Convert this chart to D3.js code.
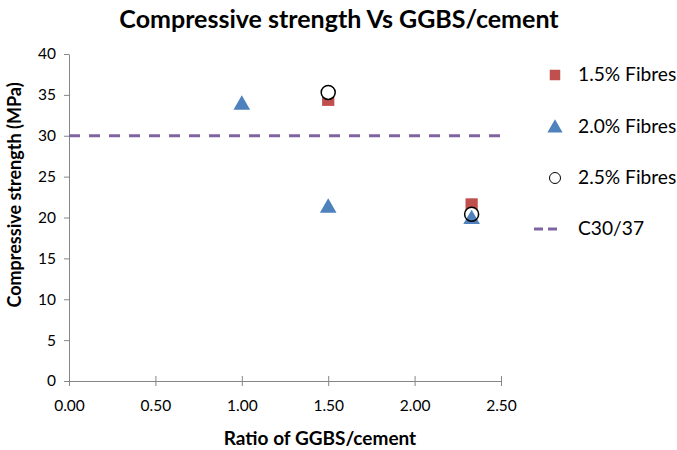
<!DOCTYPE html>
<html><head><meta charset="utf-8">
<script src="https://cdn.jsdelivr.net/npm/d3@7"></script>
<style>body{margin:0;background:#fff;} svg{display:block;font-family:Lato,"Open Sans",sans-serif;}</style>
</head><body><svg id="c" width="677" height="450"></svg>
<script>
const title = "Compressive strength Vs GGBS/cement";
const xTitle = "Ratio of GGBS/cement";
const yTitle = "Compressive strength (MPa)";
const xTicks = [0, 0.5, 1.0, 1.5, 2.0, 2.5];
const yTicks = [0, 5, 10, 15, 20, 25, 30, 35, 40];
const seriesNames = ["1.5% Fibres", "2.0% Fibres", "2.5% Fibres", "C30/37"];
const fib15 = [[1.5, 34.4], [2.33, 21.6]];
const fib20 = [[1.0, 33.9], [1.5, 21.3], [2.33, 19.9]];
const fib25 = [[1.5, 35.3], [2.33, 20.4]];
const c3037 = [[0, 30], [2.5, 30]];

const svg = d3.select("#c");
const x = d3.scaleLinear().domain([0, 2.5]).range([69, 501]);
const y = d3.scaleLinear().domain([0, 40]).range([381, 54]);
const axisCol = "#868686";

svg.append("text").attr("x", 339).attr("y", 28).attr("text-anchor", "middle")
  .attr("font-size", 25).attr("font-weight", "bold").attr("fill", "#000").text(title);

const gx = svg.append("g").attr("transform", "translate(0,381)")
  .call(d3.axisBottom(x).tickValues(xTicks).tickFormat(d3.format(".2f")).tickSizeInner(5).tickSizeOuter(0).tickPadding(14));
gx.selectAll(".tick line").attr("y1", -5);
const gy = svg.append("g").attr("transform", "translate(69,0)")
  .call(d3.axisLeft(y).tickValues(yTicks).tickSizeInner(5).tickSizeOuter(0).tickPadding(8));
[gx, gy].forEach(g => {
  g.selectAll("path,line").attr("stroke", axisCol);
  g.selectAll("text").attr("font-size", 15.5).attr("fill", "#000").attr("font-family", "Lato,'Open Sans',sans-serif");
});

svg.append("text").attr("x", 320).attr("y", 445).attr("text-anchor", "middle")
  .attr("font-size", 19).attr("font-weight", "bold").text(xTitle);
svg.append("text").attr("transform", "translate(21,195) rotate(-90)").attr("text-anchor", "middle")
  .attr("font-size", 18).attr("font-weight", "bold").text(yTitle);

// reference line
svg.append("path").attr("d", d3.line().x(d => x(d[0])).y(d => y(d[1]))(c3037))
  .attr("stroke", "#8064A2").attr("stroke-width", 3).attr("stroke-dasharray", "11,9").attr("fill", "none");

const sq = d3.symbol().type(d3.symbolSquare).size(150);
const tri = d3.symbol().type(d3.symbolTriangle).size(120);

svg.selectAll(".sq").data(fib15).join("path").attr("d", sq)
  .attr("transform", d => `translate(${x(d[0])},${y(d[1])})`).attr("fill", "#C0504D");
svg.selectAll(".cf").data(fib25).join("circle").attr("cx", d => x(d[0])).attr("cy", d => y(d[1]))
  .attr("r", 7).attr("fill", "#fff");
svg.selectAll(".tr").data(fib20).join("path").attr("d", tri)
  .attr("transform", d => `translate(${x(d[0])},${y(d[1])+1})`).attr("fill", "#4F81BD");
svg.selectAll(".co").data(fib25).join("circle").attr("cx", d => x(d[0])).attr("cy", d => y(d[1]))
  .attr("r", 7).attr("fill", "none").attr("stroke", "#000").attr("stroke-width", 1.5);

// legend
const ly = [75, 127, 178, 229];
const lg = svg.append("g");
lg.append("path").attr("d", d3.symbol().type(d3.symbolSquare).size(110)).attr("transform", `translate(555,${ly[0]})`).attr("fill", "#C0504D");
lg.append("path").attr("d", d3.symbol().type(d3.symbolTriangle).size(100)).attr("transform", `translate(555,${ly[1]+1})`).attr("fill", "#4F81BD");
lg.append("circle").attr("cx", 555).attr("cy", ly[2]).attr("r", 5.5).attr("fill", "#fff").attr("stroke", "#000").attr("stroke-width", 1);
lg.append("line").attr("x1", 534).attr("x2", 562).attr("y1", ly[3]).attr("y2", ly[3])
  .attr("stroke", "#8064A2").attr("stroke-width", 3).attr("stroke-dasharray", "9,5");
seriesNames.forEach((n, i) => {
  lg.append("text").attr("x", 578).attr("y", ly[i] + 6).attr("font-size", 19.2).text(n);
});
</script></body></html>
